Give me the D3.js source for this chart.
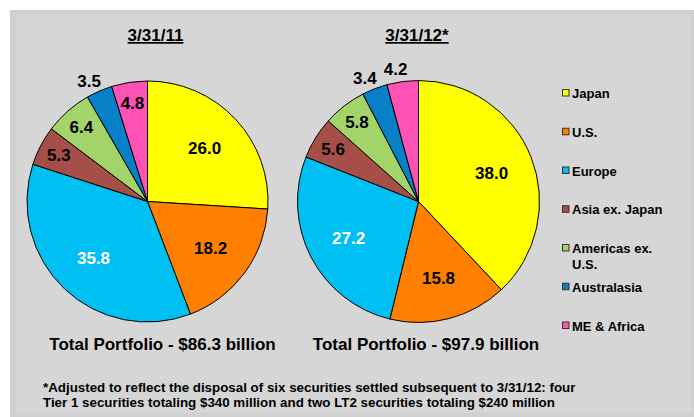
<!DOCTYPE html>
<html>
<head>
<meta charset="utf-8">
<script src="https://cdn.jsdelivr.net/npm/d3@7"></script>
<style>
  body { margin: 0; background: #fff; }
  text { font-family: Arial, 'Liberation Sans', sans-serif; font-weight: bold; fill: #000; }
</style>
</head>
<body>
<div id="chart"></div>
<script>
const width = 694
const height = 417

// regions, in legend order (clockwise from 12 o'clock)
const regions = ['Japan', 'U.S.', 'Europe', 'Asia ex. Japan', 'Americas ex. U.S.', 'Australasia', 'ME & Africa']
const colors = ['#ffff00', '#ff8000', '#00bff2', '#a64f48', '#a3d469', '#0780c8', '#ff52b5']

const dates = ['3/31/11', '3/31/12*']
const values2011 = [26.0, 18.2, 35.8, 5.3, 6.4, 3.5, 4.8]
const values2012 = [38.0, 15.8, 27.2, 5.6, 5.8, 3.4, 4.2]
const totals = ['Total Portfolio - $86.3 billion', 'Total Portfolio - $97.9 billion']

const footnote = [
  '*Adjusted to reflect the disposal of six securities settled subsequent to 3/31/12: four',
  'Tier 1 securities totaling $340 million and two LT2 securities totaling $240 million'
]

const svg = d3
  .select('#chart')
  .append('svg')
  .attr('width', width)
  .attr('height', height)

// grey panel with a slightly darker rim
svg
  .append('rect')
  .attr('x', 10)
  .attr('y', 10)
  .attr('width', width - 10)
  .attr('height', height - 10)
  .attr('fill', '#d0d0d0')

svg
  .append('rect')
  .attr('x', 16)
  .attr('y', 15)
  .attr('width', 675)
  .attr('height', 398)
  .attr('fill', '#d6d6d6')

const color = d3.scaleOrdinal().domain(regions).range(colors)
const fmt = d3.format('.1f')

const pie = d3.pie().sort(null).value(d => d.value)

const pies = [
  { cx: 147.5, cy: 201.5, r: 120.5, title: dates[0], titleX: 155.5, total: totals[0], totalX: 162.5, values: values2011 },
  { cx: 418.5, cy: 201.5, r: 121, title: dates[1], titleX: 417, total: totals[1], totalX: 426, values: values2012 }
]

pies.forEach(p => {
  const data = regions.map((name, i) => ({ name, value: p.values[i] }))
  const arcs = pie(data)
  const arc = d3.arc().innerRadius(0).outerRadius(p.r)

  const g = svg.append('g').attr('transform', `translate(${p.cx},${p.cy})`)

  g.selectAll('path')
    .data(arcs)
    .enter()
    .append('path')
    .attr('d', arc)
    .attr('fill', d => color(d.data.name))
    .attr('stroke', '#000')
    .attr('stroke-width', 1)
    .attr('stroke-linejoin', 'round')

  // big slices near the middle, small ones near the rim, tiny ones outside
  const labelRadius = v => (v >= 10 ? 0.65 : v >= 4.5 ? 0.83 : 1.11) * p.r

  g.selectAll('text.value')
    .data(arcs)
    .enter()
    .append('text')
    .attr('class', 'value')
    .attr('transform', d => {
      const a = (d.startAngle + d.endAngle) / 2
      const lr = labelRadius(d.data.value)
      // outside labels sit a little further round, like Excel's
      const shift = d.data.value < 4.5 ? -0.04 : 0
      return `translate(${Math.sin(a + shift) * lr},${-Math.cos(a + shift) * lr})`
    })
    .attr('text-anchor', 'middle')
    .attr('dy', '0.36em')
    .style('font-size', '17px')
    .style('fill', d => (d.data.name === 'Europe' ? '#fff' : '#000'))
    .text(d => fmt(d.data.value))

  svg
    .append('text')
    .attr('x', p.titleX)
    .attr('y', 41)
    .attr('text-anchor', 'middle')
    .style('font-size', '17px')
    .style('text-decoration', 'underline')
    .text(p.title)

  svg
    .append('text')
    .attr('x', p.totalX)
    .attr('y', 350)
    .attr('text-anchor', 'middle')
    .style('font-size', '17px')
    .text(p.total)
})

// legend
const legendY = d3.scalePoint().domain(regions).range([93, 325.5])

const legend = svg
  .selectAll('g.legend')
  .data(regions)
  .enter()
  .append('g')
  .attr('class', 'legend')
  .attr('transform', d => `translate(562,${legendY(d)})`)

legend
  .append('rect')
  .attr('x', 0.5)
  .attr('y', -3.5)
  .attr('width', 6.5)
  .attr('height', 6.5)
  .attr('fill', d => color(d))
  .attr('stroke', '#333')
  .attr('stroke-width', 1)

legend
  .append('text')
  .attr('x', 10)
  .attr('y', 5)
  .style('font-size', '13px')
  .each(function(d) {
    // wrap long names like Excel does
    const t = d3.select(this)
    const words = d.split(' ')
    let line = []
    let tspan = t.append('tspan').attr('x', 10)
    words.forEach(w => {
      line.push(w)
      tspan.text(line.join(' '))
      if (tspan.node().getComputedTextLength() > 100 && line.length > 1) {
        line.pop()
        tspan.text(line.join(' '))
        line = [w]
        tspan = t.append('tspan').attr('x', 10).attr('dy', 15.5).text(w)
      }
    })
  })

// footnote
svg
  .selectAll('text.note')
  .data(footnote)
  .enter()
  .append('text')
  .attr('class', 'note')
  .attr('x', 43)
  .attr('y', (d, i) => 391.5 + i * 15)
  .style('font-size', '13.35px')
  .text(d => d)
</script>
</body>
</html>
